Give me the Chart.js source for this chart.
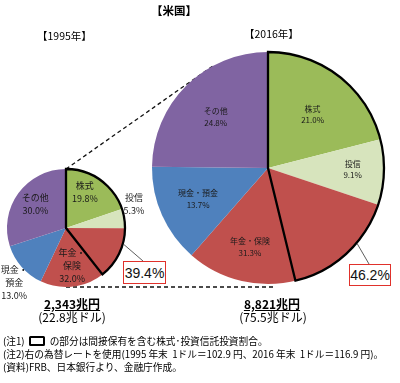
<!DOCTYPE html>
<html>
<head>
<meta charset="utf-8">
<script src="https://cdn.jsdelivr.net/npm/chart.js@4"></script>
<style>
body{margin:0;background:#fff;font-family:"Noto Sans CJK JP",sans-serif;}
#wrap{position:relative;width:400px;height:383px;overflow:hidden;background:#fff}
canvas{position:absolute}
.t{position:absolute;white-space:nowrap;color:#000;line-height:1}
.box{position:absolute;box-sizing:border-box;border:1.5px solid #e0312b;background:#fff;
  display:flex;align-items:center;justify-content:center;font-family:"Liberation Sans Narrow",sans-serif;font-size:14px;color:#111}
.mark{display:inline-block;width:12px;height:6px;border:2.5px solid #000;border-radius:1.5px;vertical-align:-1px;margin:0 5px 0 4px}
.note{font-size:9.7px}
</style>
</head>
<body>
<div id="wrap">
  <canvas id="lines" width="400" height="383" style="left:0;top:0"></canvas>
  <canvas id="pie1995" width="150" height="145" style="left:0;top:160px"></canvas>
  <canvas id="pie2016" width="240" height="240" style="left:148px;top:48px"></canvas>

  <div class="t" style="left:151px;top:5px;font-size:11.5px;font-weight:bold">【米国】</div>
  <div class="t" id="year0" style="left:37px;top:31px;font-size:10.5px"></div>
  <div class="t" id="year1" style="left:244px;top:29px;font-size:10.5px"></div>

  <div class="box" id="box0" style="left:123px;top:261px;width:43px;height:23px"></div>
  <div class="box" id="box1" style="left:349px;top:264px;width:42px;height:22px"></div>

  <div class="t" id="yen0" style="left:72px;top:298px;font-size:12px;font-weight:bold;text-decoration:underline;transform:translateX(-50%)"></div>
  <div class="t" id="usd0" style="left:72px;top:311px;font-size:12px;transform:translateX(-50%)"></div>
  <div class="t" id="yen1" style="left:272px;top:298px;font-size:12px;font-weight:bold;text-decoration:underline;transform:translateX(-50%)"></div>
  <div class="t" id="usd1" style="left:273px;top:311px;font-size:12px;transform:translateX(-50%)"></div>

  <div class="t note" style="left:3px;top:336px">(注1)<span class="mark"></span>の部分は間接保有を含む株式･投資信託投資割合。</div>
  <div class="t note" style="left:3px;top:350px">(注2)右の為替レートを使用(1995 年末&nbsp; 1ドル＝102.9 円、2016 年末&nbsp; 1ドル＝116.9 円)。</div>
  <div class="t note" style="left:3px;top:363px">(資料)FRB、日本銀行より、金融庁作成。</div>
</div>
<script>
// data
const categories = ['株式', '投信', '年金・保険', '現金・預金', 'その他'];
const share1995 = [19.8, 5.3, 32.0, 13.0, 30.0];
const share2016 = [21.0, 9.1, 31.3, 13.7, 24.8];
const indirectShare = [39.4, 46.2];
const years = ['【1995年】', '【2016年】'];
const totalYen = ['2,343兆円', '8,821兆円'];
const totalUsd = ['(22.8兆ドル)', '(75.5兆ドル)'];

const colors = ['#9bbb59', '#d7e4bd', '#c0504d', '#4f81bd', '#8064a2'];

// label placement: [angle shift from slice middle (deg), radius fraction]
const labelPos1995 = [[-8, 0.69], [-10, 1.22], [23, 0.65], [-5, 1.27], [2, 0.66]];
const labelPos2016 = [[2, 0.60], [-1, 0.73], [28, 0.70], [0, 0.66], [-1, 0.63]];

const outlinePlugin = {
  id: 'outline',
  afterDatasetsDraw(chart, args, opts) {
    const arc = chart.getDatasetMeta(0).data[0];
    const ctx = chart.ctx;
    const start = arc.startAngle;
    const end = start + Math.PI * 2 * opts.pct / 100;
    ctx.save();
    ctx.beginPath();
    ctx.moveTo(arc.x, arc.y);
    ctx.arc(arc.x, arc.y, arc.outerRadius, start, end);
    ctx.closePath();
    ctx.lineWidth = 2.3;
    ctx.strokeStyle = '#000';
    ctx.stroke();
    ctx.restore();
  }
};

const labelPlugin = {
  id: 'sliceLabels',
  afterDraw(chart, args, opts) {
    const ctx = chart.ctx;
    const ds = chart.data.datasets[0];
    chart.getDatasetMeta(0).data.forEach((arc, i) => {
      const p = opts.pos[i];
      const mid = (arc.startAngle + arc.endAngle) / 2 + p[0] * Math.PI / 180;
      const r = arc.outerRadius * p[1];
      const x = arc.x + Math.cos(mid) * r;
      const y = arc.y + Math.sin(mid) * r;
      let name = chart.data.labels[i];
      let lines = opts.wrap.includes(i) ? name.replace('・', '・\n').split('\n') : [name];
      lines.push(ds.data[i].toFixed(1) + '%');
      ctx.save();
      ctx.fillStyle = '#1a1a1a';
      ctx.font = opts.size + 'px "Noto Sans CJK JP"';
      ctx.textAlign = 'center';
      ctx.textBaseline = 'middle';
      const lh = opts.size * 1.45;
      lines.forEach((s, k) => {
        ctx.fillText(s, x, y + (k - (lines.length - 1) / 2) * lh);
      });
      ctx.restore();
    });
  }
};

function makePie(id, values, pct, pos, wrap, size, pad) {
  return new Chart(document.getElementById(id), {
    type: 'pie',
    data: {
      labels: categories,
      datasets: [{
        data: values,
        backgroundColor: colors,
        borderWidth: 0,
        hoverOffset: 0,
        offset: 0
      }]
    },
    options: {
      responsive: false,
      animation: false,
      events: [],
      layout: { padding: pad },
      plugins: {
        legend: { display: false },
        tooltip: { enabled: false },
        outline: { pct: pct },
        sliceLabels: { pos: pos, wrap: wrap, size: size }
      }
    },
    plugins: [outlinePlugin, labelPlugin]
  });
}

const pieA = makePie('pie1995', share1995, indirectShare[0], labelPos1995, [2, 3], 9,
  { left: 7, top: 9, right: 25, bottom: 18 });
const pieB = makePie('pie2016', share2016, indirectShare[1], labelPos2016, [], 8, 4);

[0, 1].forEach(i => {
  document.getElementById('year' + i).textContent = years[i];
  document.getElementById('box' + i).textContent = indirectShare[i].toFixed(1) + '%';
  document.getElementById('yen' + i).textContent = totalYen[i];
  document.getElementById('usd' + i).textContent = totalUsd[i];
});

// connector lines between the two pies and leader lines to the boxes
const lc = document.getElementById('lines').getContext('2d');
function geo(chart) {
  const arc = chart.getDatasetMeta(0).data[0];
  return { x: arc.x + chart.canvas.offsetLeft, y: arc.y + chart.canvas.offsetTop, r: arc.outerRadius, start: arc.startAngle };
}
const a = geo(pieA), b = geo(pieB);
lc.strokeStyle = '#111';
lc.lineWidth = 1.3;
lc.setLineDash([4, 3]);
lc.beginPath();
const ang = -Math.PI / 2 - 28.5 * Math.PI / 180;
lc.moveTo(a.x, a.y - a.r);
lc.lineTo(b.x + Math.cos(ang) * b.r, b.y + Math.sin(ang) * b.r);
lc.moveTo(a.x, a.y + a.r);
lc.lineTo(b.x + 5, a.y + a.r);
lc.stroke();

lc.setLineDash([]);
lc.lineWidth = 0.8;
lc.strokeStyle = '#333';
[a, b].forEach((g, i) => {
  const t = g.start + Math.PI * 2 * (indirectShare[i] - 10) / 100;
  const box = document.getElementById('box' + i);
  lc.beginPath();
  lc.moveTo(g.x + Math.cos(t) * (g.r + 1), g.y + Math.sin(t) * (g.r + 1));
  lc.lineTo(box.offsetLeft + 20, box.offsetTop);
  lc.stroke();
});
</script>
</body>
</html>
